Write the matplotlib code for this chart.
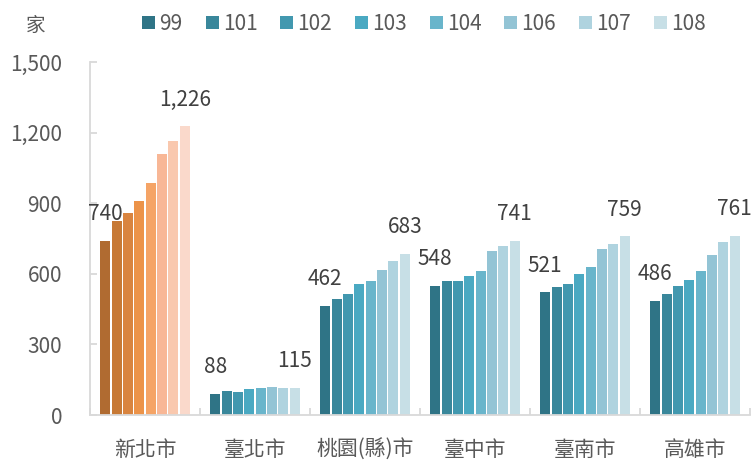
import matplotlib.pyplot as plt
import numpy as np
from matplotlib.patches import Patch

plt.rcParams['font.family'] = ['Noto Sans CJK TC', 'DejaVu Sans']

# data
cities = ['新北市', '臺北市', '桃園(縣)市', '臺中市', '臺南市', '高雄市']
years  = ['99', '101', '102', '103', '104', '106', '107', '108']

values = np.array([
    [740, 826, 860, 911, 987, 1110, 1165, 1226],   # 新北市
    [88, 102, 99, 110, 113, 121, 114, 115],         # 臺北市
    [462, 494, 515, 558, 568, 616, 654, 683],       # 桃園(縣)市
    [548, 570, 570, 591, 614, 695, 720, 741],       # 臺中市
    [521, 544, 555, 600, 631, 705, 727, 759],       # 臺南市
    [486, 514, 548, 572, 611, 682, 734, 761],       # 高雄市
])

teal   = ['#2F7486', '#39879B', '#4298AF', '#4AA9C2', '#69B5CB', '#93C4D5', '#AFD3DF', '#C7DFE6']
orange = ['#B06B31', '#C77935', '#D9843F', '#EC9349', '#F5A466', '#F8B796', '#F9C8AE', '#FAD9CB']

text_gray  = '#595959'
label_gray = '#404040'
line_gray  = '#D9D9D9'

fig = plt.figure(figsize=(7.52, 4.61), dpi=100)
ax = fig.add_axes([90/752, 1 - 415/461, 660/752, 353/461])

slot  = 0.1034
width = 0.091
x = np.arange(len(cities))

for j in range(len(years)):
    offs = (j - 3.5) * slot
    cols = [orange[j] if i == 0 else teal[j] for i in range(len(cities))]
    ax.bar(x + offs, values[:, j], width=width, color=cols, linewidth=0)

# value labels on first and last bar of each group
for i in range(len(cities)):
    for j in (0, len(years) - 1):
        ax.annotate(f'{values[i, j]:,}', xy=(x[i] + (j - 3.5) * slot, values[i, j]),
                    xytext=(0, 15), textcoords='offset points',
                    ha='center', va='baseline', fontsize=15, color=label_gray)

ax.set_xlim(-0.5, 5.5)
ax.set_ylim(0, 1500)
ax.set_yticks(np.arange(0, 1501, 300))
ax.set_yticklabels([f'{v:,}' for v in range(0, 1501, 300)])

ax.set_xticks(x)
ax.set_xticklabels(cities)
ax.set_xticks(np.arange(-0.5, 6, 1), minor=True)
ax.tick_params(axis='x', which='major', length=0, pad=17, labelsize=15, labelcolor=text_gray)
ax.tick_params(axis='x', which='minor', length=5, width=1.3, direction='in', color=line_gray)
ax.tick_params(axis='y', length=5, width=1.3, direction='in', color=line_gray,
               pad=20, labelsize=15, labelcolor=text_gray)

for s in ('top', 'right'):
    ax.spines[s].set_visible(False)
for s in ('left', 'bottom'):
    ax.spines[s].set_color(line_gray)
    ax.spines[s].set_linewidth(1.3)

# unit label
fig.text(36/752, 1 - 25/461, '家', ha='center', va='center', fontsize=14, color=text_gray)

# legend
handles = [Patch(facecolor=teal[j], edgecolor='none') for j in range(len(years))]
fig.legend(handles, years, loc='center', bbox_to_anchor=(424/752, 1 - 24/461), ncol=8,
           frameon=False, fontsize=15, handlelength=0.62, handleheight=0.62,
           handletextpad=0.2, columnspacing=1.1, labelcolor=text_gray,
           borderpad=0, borderaxespad=0)

fig.savefig('out.png', dpi=100)
